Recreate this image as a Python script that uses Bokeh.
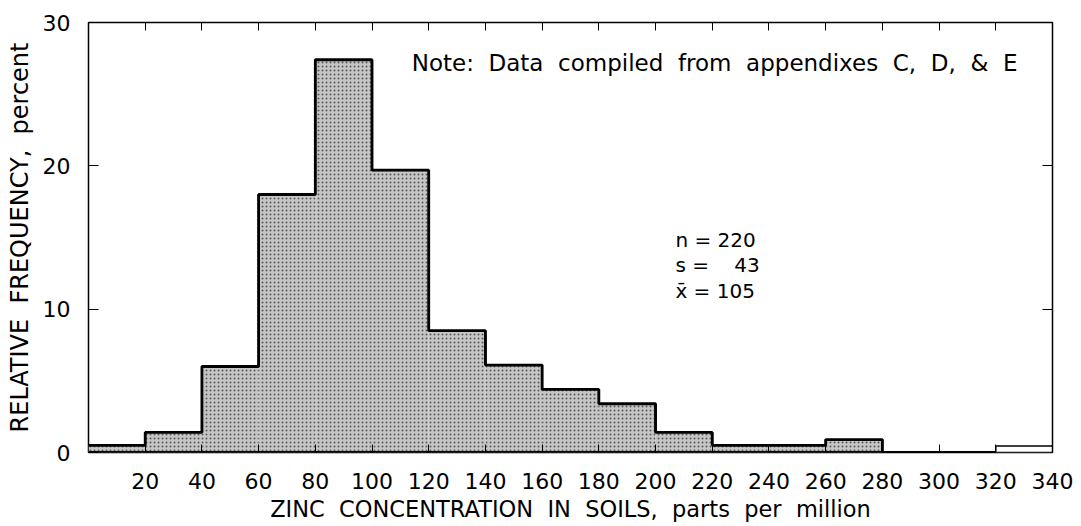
from bokeh.plotting import figure
from bokeh.models import LinearAxis, FixedTicker, Range1d, Label
from bokeh.embed import file_html
from bokeh.resources import INLINE

bin_left = [0, 20, 40, 60, 80, 100, 120, 140, 160, 180, 200, 220, 240, 260, 280, 300]
bin_width = 20
freq = [0.5, 1.4, 6.0, 18.0, 27.4, 19.7, 8.5, 6.1, 4.4, 3.4, 1.4, 0.5, 0.5, 0.9, 0.0, 0.0]
open_left = [320]
open_freq = [0.45]
x_ticks = [20, 40, 60, 80, 100, 120, 140, 160, 180, 200, 220, 240, 260, 280, 300, 320, 340]
y_ticks = [0, 10, 20, 30]
NB = "\u00a0"
stats = ["n" + NB + "=" + NB + "220", "s" + NB + "=" + NB * 4 + "43", "x\u0304" + NB + "=" + NB + "105"]
note = (NB * 2).join(["Note:", "Data", "compiled", "from", "appendixes", "C,", "D,", "&", "E"])
x_label = (NB * 2).join(["ZINC", "CONCENTRATION", "IN", "SOILS,", "parts", "per", "million"])
y_label = (NB * 2).join(["RELATIVE", "FREQUENCY,", "percent"])
FONT = "DejaVu Sans"

p = figure(width=1081, height=526, output_backend="svg", toolbar_location=None,
           x_range=Range1d(0, 340), y_range=Range1d(0, 30),
           min_border_left=88, min_border_right=29, min_border_top=22, min_border_bottom=74)
p.grid.visible = False
p.outline_line_color = "black"
p.outline_line_width = 1.5
p.background_fill_color = "white"

right = [l + bin_width for l in bin_left]
p.quad(left=bin_left, right=right, bottom=0, top=freq, fill_color="#c6c6c6",
       hatch_pattern="dot", hatch_color="#111111", hatch_scale=4, hatch_weight=1.3, hatch_alpha=0.6,
       line_color=None)
step_x = bin_left + [bin_left[-1] + bin_width]
step_y = freq + [freq[-1]]
p.step(x=step_x, y=step_y, mode="after", line_color="black", line_width=2.8)
for i in range(1, len(bin_left)):
    lo, hi = sorted([freq[i - 1], freq[i]])
    if hi > 0:
        p.segment(x0=[bin_left[i]], y0=[lo], x1=[bin_left[i]], y1=[hi], line_color="black", line_width=1.8)
p.segment(x0=[0], y0=[0], x1=[bin_left[-1] + bin_width], y1=[0], line_color="black", line_width=3)
p.quad(left=open_left, right=[l + bin_width for l in open_left], bottom=0, top=open_freq,
       fill_color="white", line_color="black", line_width=1.5)

xa = p.xaxis[0]
xa.ticker = FixedTicker(ticks=x_ticks)
xa.major_tick_in = 8
xa.major_tick_out = 0
xa.minor_tick_line_color = None
xa.axis_line_color = None
xa.major_label_text_font = FONT
xa.major_label_text_font_size = "22px"
xa.major_label_text_color = "black"
xa.major_label_standoff = 20
xa.axis_label = x_label
xa.axis_label_text_font = FONT
xa.axis_label_text_font_size = "22.5px"
xa.axis_label_text_font_style = "normal"
xa.axis_label_text_color = "black"
xa.axis_label_standoff = 4
xa.major_tick_line_color = "black"

ya = p.yaxis[0]
ya.ticker = FixedTicker(ticks=y_ticks)
ya.major_tick_in = 10
ya.major_tick_out = 0
ya.minor_tick_line_color = None
ya.axis_line_color = None
ya.major_label_text_font = FONT
ya.major_label_text_font_size = "22px"
ya.major_label_text_color = "black"
ya.major_label_standoff = 18
ya.axis_label = y_label
ya.axis_label_text_font = FONT
ya.axis_label_text_font_size = "24px"
ya.axis_label_text_font_style = "normal"
ya.axis_label_text_color = "black"
ya.axis_label_standoff = 6

top = LinearAxis(ticker=FixedTicker(ticks=x_ticks), major_tick_in=8, major_tick_out=0,
                 minor_tick_line_color=None, axis_line_color=None, major_label_text_font_size="0px")
top.major_label_overrides = {t: "" for t in x_ticks}
p.add_layout(top, "above")
rt = LinearAxis(ticker=FixedTicker(ticks=[10, 20]), major_tick_in=10, major_tick_out=0,
                minor_tick_line_color=None, axis_line_color=None, major_label_text_font_size="0px")
rt.major_label_overrides = {t: "" for t in [10, 20]}
p.add_layout(rt, "right")
p.min_border_top = 22
p.min_border_right = 29

p.add_layout(Label(x=114, y=27.15, text=note, text_font=FONT, text_font_size="23px",
                   text_baseline="middle", text_color="black"))
for i, s in enumerate(stats):
    p.add_layout(Label(x=207, y=14.8 - i * 1.75, text=s, text_font=FONT, text_font_size="20px",
                       text_baseline="middle", text_color="black"))

open("out.html", "w").write(file_html(p, INLINE))
